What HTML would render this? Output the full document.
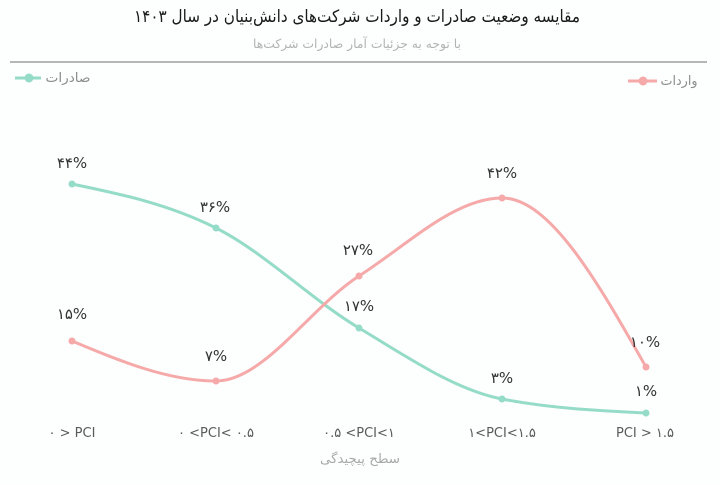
<!DOCTYPE html>
<html>
<head>
<meta charset="utf-8">
<style>
html,body{margin:0;padding:0;background:#fdfefe;}
svg{display:block;}
text{font-family:"DejaVu Sans","Liberation Sans",sans-serif;}
</style>
</head>
<body>
<svg id="c" width="720" height="486" viewBox="0 0 720 486" xmlns="http://www.w3.org/2000/svg">
<rect width="720" height="486" fill="#fdfefe"/>
<text x="357" y="22" text-anchor="middle" direction="rtl" font-size="17" fill="#1a1a1a" textLength="446" lengthAdjust="spacingAndGlyphs">مقایسه وضعیت صادرات و واردات شرکت‌های دانش‌بنیان در سال ۱۴۰۳</text>
<text x="357" y="48" text-anchor="middle" direction="rtl" font-size="12.5" fill="#b3b3b3" textLength="208" lengthAdjust="spacingAndGlyphs">با توجه به جزئیات آمار صادرات شرکت‌ها</text>
<line x1="10" y1="62" x2="707" y2="62" stroke="#6e6e6e" stroke-width="1"/>

<!-- legends -->
<line x1="15" y1="78" x2="41" y2="78" stroke="#95dcc8" stroke-width="3"/>
<circle cx="29" cy="78" r="4.5" fill="#95dcc8"/>
<text x="68" y="82" text-anchor="middle" direction="rtl" font-size="13" fill="#8c8c8c" textLength="45" lengthAdjust="spacingAndGlyphs">صادرات</text>

<line x1="628" y1="81" x2="657" y2="81" stroke="#f5a9a9" stroke-width="3"/>
<circle cx="643" cy="81" r="4.5" fill="#f5a9a9"/>
<text x="679" y="85" text-anchor="middle" direction="rtl" font-size="13" fill="#8c8c8c" textLength="37" lengthAdjust="spacingAndGlyphs">واردات</text>

<path id="pg" fill="none" stroke="#95dcc8" stroke-width="3" stroke-linecap="round"/>
<path id="pp" fill="none" stroke="#f5a9a9" stroke-width="3" stroke-linecap="round"/>
<g id="dots"></g>

<g font-size="15" fill="#333" text-anchor="middle" direction="ltr">
<text x="72" y="168">۴۴%</text>
<text x="215" y="212">۳۶%</text>
<text x="359" y="311">۱۷%</text>
<text x="502" y="383">۳%</text>
<text x="646" y="396">۱%</text>
<text x="72" y="319">۱۵%</text>
<text x="216" y="361">۷%</text>
<text x="358" y="255">۲۷%</text>
<text x="502" y="178">۴۲%</text>
<text x="645" y="347">۱۰%</text>
</g>

<g font-size="13" fill="#5a5a5a" text-anchor="middle">
<text x="72" y="437" direction="ltr" unicode-bidi="bidi-override">۰ &gt; PCI</text>
<text x="216" y="437" direction="ltr" unicode-bidi="bidi-override">۰ &lt;PCI&lt; ۰.۵</text>
<text x="359" y="437" direction="ltr" unicode-bidi="bidi-override">۰.۵ &lt;PCI&lt;۱</text>
<text x="502" y="437" direction="ltr" unicode-bidi="bidi-override">۱&lt;PCI&lt;۱.۵</text>
<text x="645" y="437" direction="ltr" unicode-bidi="bidi-override">PCI &gt; ۱.۵</text>
</g>
<text x="360" y="463" text-anchor="middle" direction="rtl" font-size="13" fill="#a8a8a8" textLength="80" lengthAdjust="spacingAndGlyphs">سطح پیچیدگی</text>
</svg>
<script>
(function(){
function sign(v){return v<0?-1:1;}
function monotone(pts){
  var n=pts.length,t=new Array(n);
  for(var i=1;i<n-1;i++){
    var h0=pts[i][0]-pts[i-1][0],h1=pts[i+1][0]-pts[i][0];
    var s0=(pts[i][1]-pts[i-1][1])/h0,s1=(pts[i+1][1]-pts[i][1])/h1;
    var p=(s0*h1+s1*h0)/(h0+h1);
    t[i]=(sign(s0)+sign(s1))*Math.min(Math.abs(s0),Math.abs(s1),0.5*Math.abs(p))||0;
  }
  var h=pts[1][0]-pts[0][0];
  t[0]=(3*(pts[1][1]-pts[0][1])/h-t[1])/2;
  h=pts[n-1][0]-pts[n-2][0];
  t[n-1]=(3*(pts[n-1][1]-pts[n-2][1])/h-t[n-2])/2;
  var d="M"+pts[0][0]+","+pts[0][1];
  for(var j=0;j<n-1;j++){
    var x0=pts[j][0],y0=pts[j][1],x1=pts[j+1][0],y1=pts[j+1][1];
    var dx=(x1-x0)/3;
    d+=" C"+(x0+dx)+","+(y0+dx*t[j])+" "+(x1-dx)+","+(y1-dx*t[j+1])+" "+x1+","+y1;
  }
  return d;
}
var g=[[72,184],[216,228],[359,328],[502,399],[646,413]];
var p=[[72,341],[216,381],[359,276],[502,198],[646,367]];
document.getElementById('pg').setAttribute('d',monotone(g));
document.getElementById('pp').setAttribute('d',monotone(p));
var ns="http://www.w3.org/2000/svg",dots=document.getElementById('dots');
function add(arr,col){arr.forEach(function(q){var c=document.createElementNS(ns,'circle');c.setAttribute('cx',q[0]);c.setAttribute('cy',q[1]);c.setAttribute('r',3.5);c.setAttribute('fill',col);dots.appendChild(c);});}
add(g,'#95dcc8');add(p,'#f5a9a9');
})();
</script>
</body>
</html>
